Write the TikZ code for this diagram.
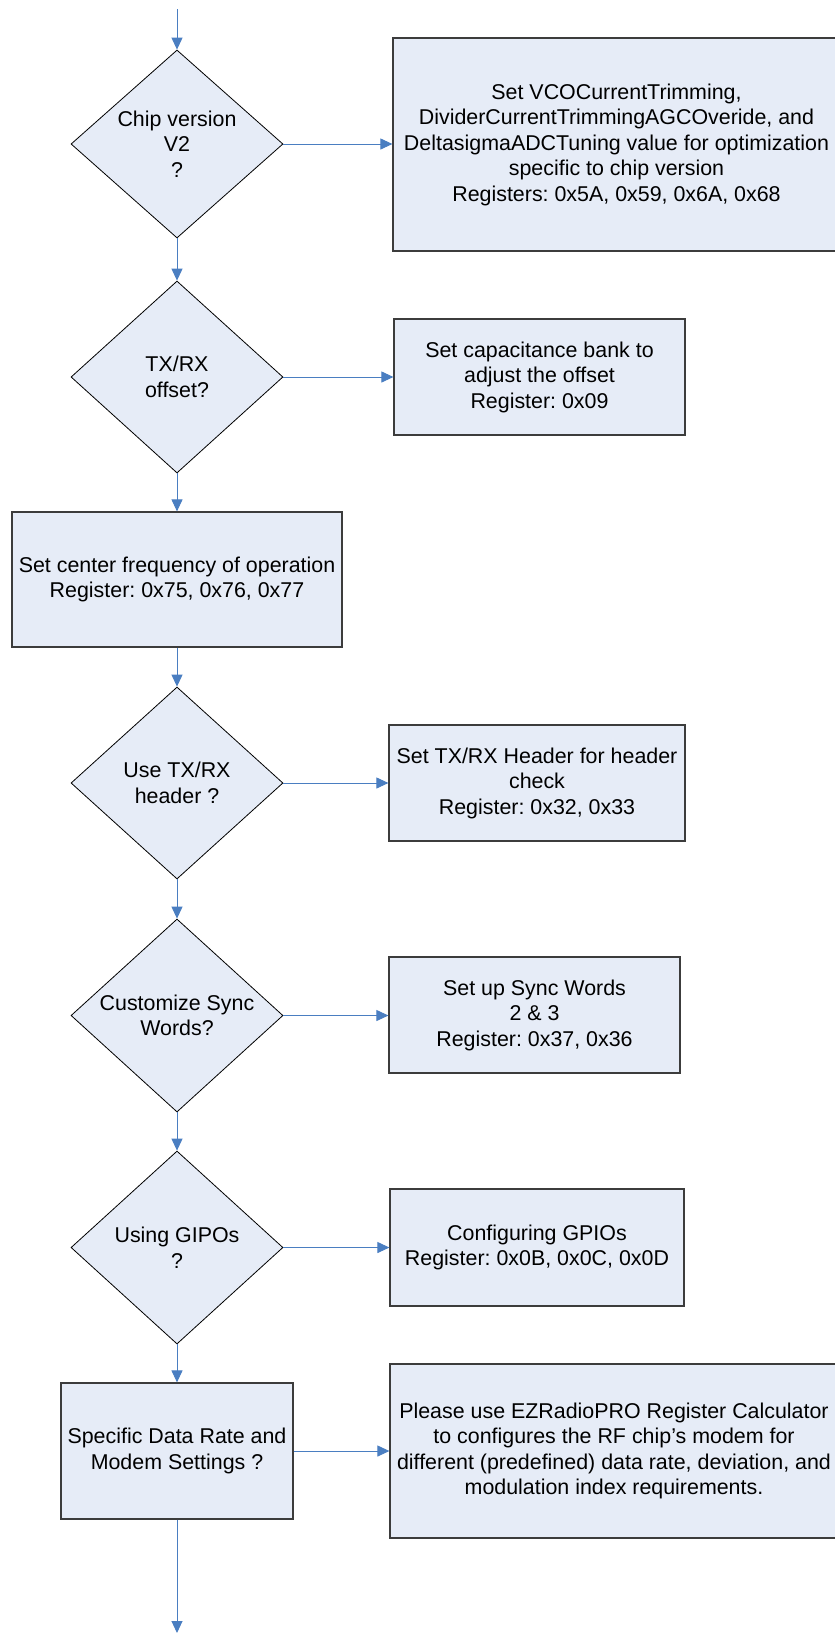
\documentclass[tikz,border=0pt]{standalone}
\usepackage{fontspec}
\setmainfont{Liberation Sans}
\usetikzlibrary{shapes.geometric,arrows.meta}
\definecolor{boxfill}{RGB}{230,236,247}
\definecolor{flowblue}{RGB}{74,126,193}
\definecolor{edgegray}{RGB}{60,60,60}
\frenchspacing
\begin{document}
\begin{tikzpicture}[x=1pt,y=-1pt,
  every node/.style={font=\fontsize{21.4}{25.5}\selectfont, align=center, inner sep=0pt},
  decision/.style={diamond, draw=black, line width=0.8pt, fill=boxfill, shape aspect=1.1},
  procbox/.style={rectangle, draw=edgegray, line width=1.2pt, fill=boxfill},
  flow/.style={draw=flowblue, line width=1pt, -{Triangle[length=12pt,width=11pt]}}
]
\useasboundingbox (0,0) rectangle (835,1634);

\coordinate (start) at (177,9);
\coordinate (finish) at (177,1633);

% decisions
\node[decision, minimum width=212, minimum height=188] (d1) at (177,144) {Chip version\\V2\\?};
\node[decision, minimum width=212, minimum height=192] (d2) at (177,377) {TX/RX\\offset?};
\node[decision, minimum width=212, minimum height=192] (d3) at (177,783) {Use TX/RX\\header ?};
\node[decision, minimum width=212, minimum height=193] (d4) at (177,1015.5) {Customize Sync\\Words?};
\node[decision, minimum width=212, minimum height=193] (d5) at (177,1247.5) {Using GIPOs\\?};

% process boxes
\node[procbox, minimum width=447, minimum height=213] (b1) at (616.5,144.5)
  {Set VCOCurrentTrimming,\\DividerCurrentTrimmingAGCOveride, and\\DeltasigmaADCTuning value for optimization\\specific to chip version\\Registers: 0x5A, 0x59, 0x6A, 0x68};
\node[procbox, minimum width=291, minimum height=116] (b2) at (539.5,377)
  {Set capacitance bank to\\adjust the offset\\Register: 0x09};
\node[procbox, minimum width=330, minimum height=135] (b3) at (177,579.5)
  {Set center frequency of operation\\Register: 0x75, 0x76, 0x77};
\node[procbox, minimum width=296, minimum height=116] (b4) at (537,783)
  {Set TX/RX Header for header\\check\\Register: 0x32, 0x33};
\node[procbox, minimum width=291, minimum height=116] (b5) at (534.5,1015)
  {Set up Sync Words\\2 \& 3\\Register: 0x37, 0x36};
\node[procbox, minimum width=294, minimum height=117] (b6) at (537,1247.5)
  {Configuring GPIOs\\Register: 0x0B, 0x0C, 0x0D};
\node[procbox, minimum width=232, minimum height=136] (b7) at (177,1451)
  {Specific Data Rate and\\Modem Settings ?};
\node[procbox, minimum width=448, minimum height=174] (b8) at (614,1451)
  {Please use EZRadioPRO Register Calculator\\to configures the RF chip’s modem for\\different (predefined) data rate, deviation, and\\modulation index requirements.};

% connectors
\draw[flow] (start) -- (d1.north);
\draw[flow] (d1.east) -- (b1.west |- d1.east);
\draw[flow] (d1.south) -- (d2.north);
\draw[flow] (d2.east) -- (b2.west);
\draw[flow] (d2.south) -- (b3.north);
\draw[flow] (b3.south) -- (d3.north);
\draw[flow] (d3.east) -- (b4.west);
\draw[flow] (d3.south) -- (d4.north);
\draw[flow] (d4.east) -- (b5.west |- d4.east);
\draw[flow] (d4.south) -- (d5.north);
\draw[flow] (d5.east) -- (b6.west |- d5.east);
\draw[flow] (d5.south) -- (b7.north);
\draw[flow] (b7.east) -- (b8.west);
\draw[flow] (b7.south) -- (finish);
\end{tikzpicture}
\end{document}
